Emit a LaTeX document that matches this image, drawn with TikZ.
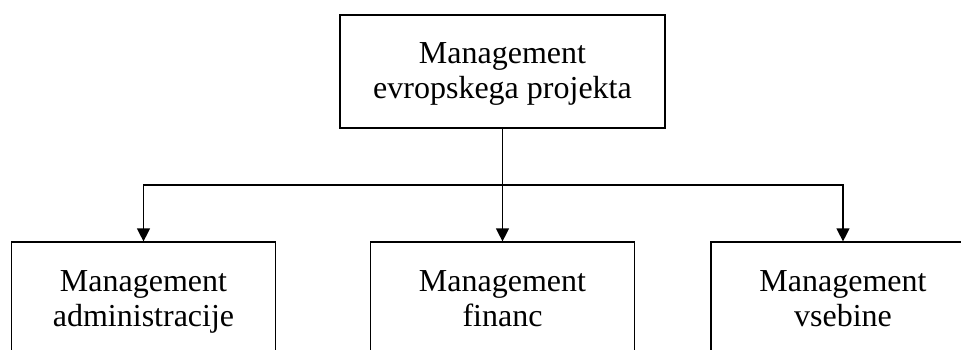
\documentclass[tikz,border=0pt]{standalone}
\usepackage{fontspec}
\setmainfont{Liberation Serif}
\usetikzlibrary{arrows.meta}
% fixed line strut so every label sits on the same baselines
\newcommand{\linestrut}{\rule[-8pt]{0pt}{34pt}}
\begin{document}
\begin{tikzpicture}[x=1pt,y=-1pt,
  box/.style={draw, line width=1.2pt, align=center, inner sep=0pt,
    font=\fontsize{32}{35}\selectfont},
  topbox/.style={box, minimum width=325pt, minimum height=113pt},
  subbox/.style={box, minimum width=264pt, minimum height=115pt},
  link/.style={line width=1.2pt, -{Triangle[width=13pt,length=13pt]}}]
\useasboundingbox (0,0) rectangle (961,349);
\clip (0,0) rectangle (961,349);
% root
\node[topbox] (root) at (502.5,71.5)
  {Management\linestrut\\evropskega projekta\linestrut};
% the three branches (their lower edges run past the page)
\node[subbox] (admin) at (143.5,299.5)
  {Management\linestrut\\administracije\linestrut};
\node[subbox] (fin)   at (502.5,299.5)
  {Management\linestrut\\financ\linestrut};
\node[subbox] (vseb)  at (843,299.5)
  {Management\linestrut\\vsebine\linestrut};
% connectors
\coordinate (bus) at (502.5,185);
\draw[line width=1.2pt] (root.south) -- (bus);
\draw[link] (bus) -| (admin.north);
\draw[link] (bus) -- (fin.north);
\draw[link] (bus) -| (vseb.north);
\end{tikzpicture}
\end{document}
